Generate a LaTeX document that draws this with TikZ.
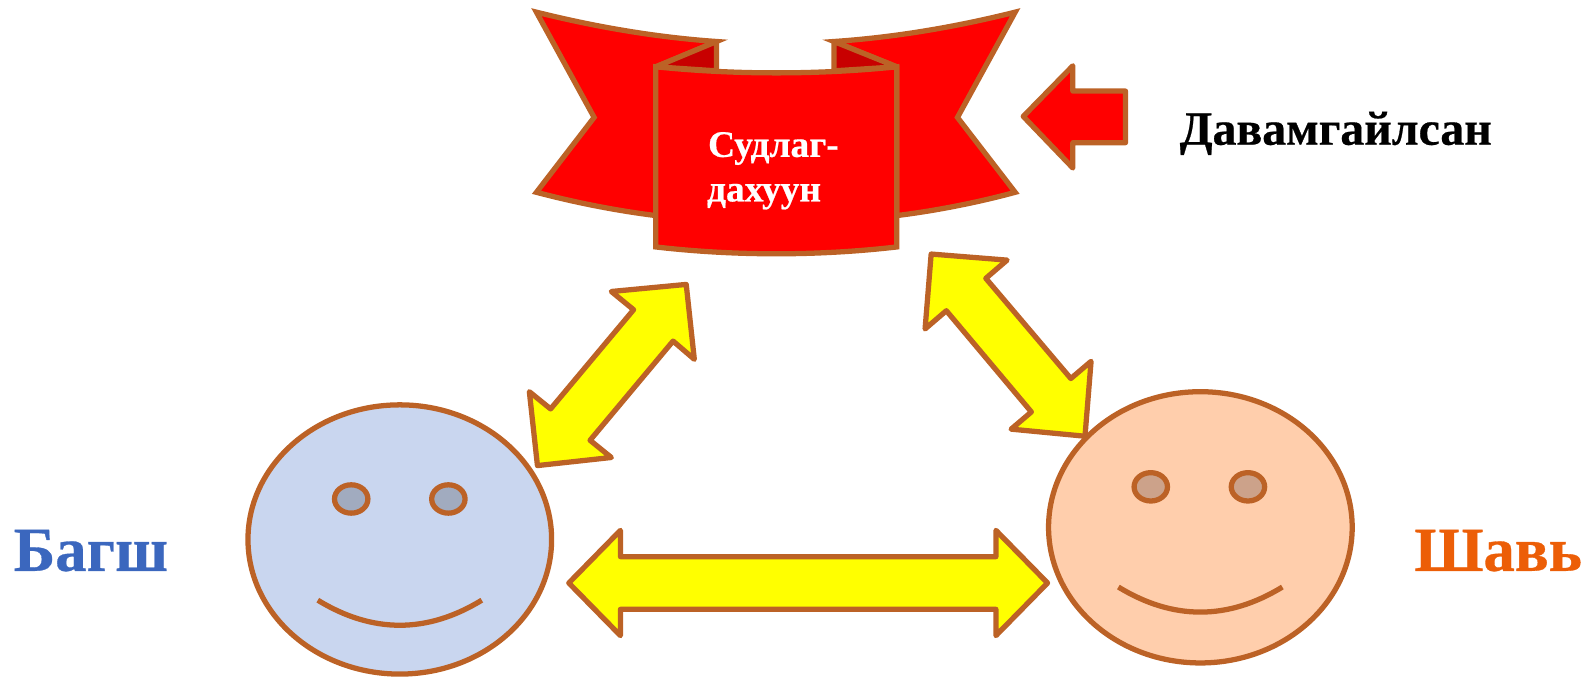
\documentclass[tikz,border=0pt]{standalone}
\usepackage{fontspec}
\setmainfont{Liberation Serif}
\newfontfamily\heavy[FakeBold=0.5]{Liberation Serif Bold}
\definecolor{edgeb}{HTML}{BC6226}
\definecolor{faceb}{HTML}{C9D6EF}
\definecolor{eyeb}{HTML}{A1ABBF}
\definecolor{facer}{HTML}{FFCEAC}
\definecolor{eyer}{HTML}{CCA28A}
\definecolor{darkr}{HTML}{C80000}
\definecolor{bagsh}{HTML}{3B67BE}
\definecolor{shav}{HTML}{EC5E07}
\definecolor{yel}{RGB}{255,255,0}
\definecolor{redd}{RGB}{255,0,0}
\tikzset{
  every path/.style={line width=5.2pt,draw=edgeb,line join=miter},
  ribbon/.style={fill=redd,line join=miter,miter limit=10},
  fold/.style={fill=darkr,line join=bevel},
  blockarrow/.style={fill=yel,line join=round},
  redarrow/.style={fill=redd,line join=round},
  facel/.style={fill=faceb},
  facer/.style={fill=facer},
  eyel/.style={fill=eyeb},
  eyer/.style={fill=eyer},
  mouth/.style={fill=none},
  lbl/.style={draw=none,inner sep=0pt,anchor=base west}
}
\begin{document}
\begin{tikzpicture}[x=1pt,y=-1pt]
\useasboundingbox[draw=none] (0,0) rectangle (1568,670);
% ribbon wings
\path[ribbon] (530,12) .. controls (590,27) and (650,37) .. (708,41) -- (648,66) -- (648,213) .. controls (608,208) and (568,200) .. (530,190) -- (587,116) -- cycle;
\path[ribbon] (1003,12) .. controls (943,27) and (883,37) .. (824,41) -- (886,66) -- (886,213) .. controls (926,208) and (966,200) .. (1003,190) -- (946,116) -- cycle;
\path[fold] (648,66) -- (708,41) -- (708,70) -- cycle;
\path[fold] (886,66) -- (824,41) -- (824,70) -- cycle;
\path[ribbon] (648,66) .. controls (726,74) and (808,74) .. (886,66) -- (886,244) .. controls (808,253) and (726,253) .. (648,244) -- cycle;
\node[lbl,text=white,font=\heavy\fontsize{37}{37}\selectfont] (t1) at (697,155) {Судлаг-};
\node[lbl,text=white,font=\heavy\fontsize{37}{37}\selectfont] (t2) at (696,199) {дахуун};
% red arrow
\path[redarrow] (1011,115) -- (1060,65) -- (1060,90) -- (1112,90) -- (1112,141) -- (1060,141) -- (1060,166) -- cycle;
\node[lbl,text=black,font=\heavy\fontsize{47.2}{48}\selectfont] (t3) at (1163,143) {Давамгайлсан};
% yellow arrows
\path[blockarrow] (678,281) -- (604,288) -- (626,306) -- (544,404) -- (523,387) -- (531,460) -- (604,452) -- (583,435) -- (665,337) -- (686,355) -- cycle;
\path[blockarrow] (920,251) -- (914,325) -- (935,307) -- (1019,407) -- (999,424) -- (1072,431) -- (1078,357) -- (1058,374) -- (974,275) -- (995,257) -- cycle;
\path[blockarrow] (562,576) -- (613,524) -- (613,550) -- (984,550) -- (984,524) -- (1035,576) -- (984,628) -- (984,602) -- (613,602) -- (613,628) -- cycle;
% left face
\path[facel] (395,533) ellipse [x radius=150,y radius=133];
\path[eyel] (347,493) ellipse [x radius=16.5,y radius=14];
\path[eyel] (443,493) ellipse [x radius=16.5,y radius=14];
\path[mouth] (314,593) .. controls (368,626) and (422,626) .. (476,593);
% right face
\path[facer] (1186,521) ellipse [x radius=150,y radius=134];
\path[eyer] (1137,481) ellipse [x radius=16.5,y radius=14];
\path[eyer] (1233,481) ellipse [x radius=16.5,y radius=14];
\path[mouth] (1105,580) .. controls (1159,613) and (1213,613) .. (1267,580);
\node[lbl,text=bagsh,font=\heavy\fontsize{62}{66}\selectfont] (t4) at (11,564) {Багш};
\node[lbl,text=shav,font=\heavy\fontsize{62}{66}\selectfont] (t5) at (1395,564) {Шавь};
\end{tikzpicture}
\end{document}
